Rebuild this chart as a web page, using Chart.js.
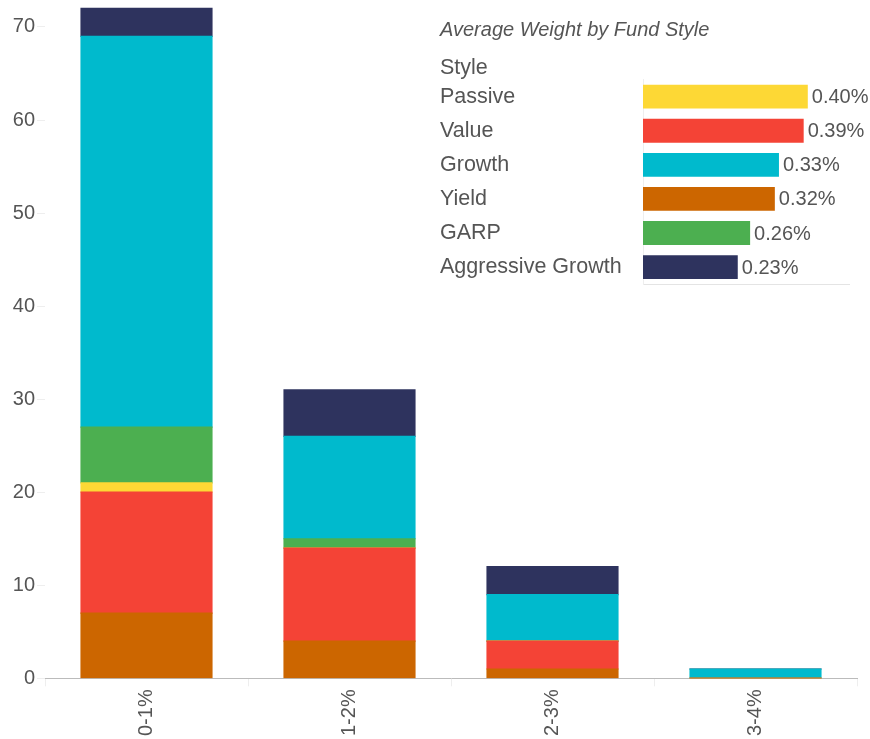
<!DOCTYPE html>
<html>
<head>
<meta charset="utf-8">
<script src="https://cdn.jsdelivr.net/npm/chart.js@4"></script>
<style>
  html, body { margin: 0; padding: 0; background: #fff; }
  #wrap { position: relative; width: 870px; height: 739px; }
  #mainChart { position: absolute; left: 0; top: 0; }
  #insetChart { position: absolute; left: 430px; top: 0; }
</style>
</head>
<body>
<div id="wrap">
  <canvas id="mainChart" width="870" height="739"></canvas>
  <canvas id="insetChart" width="440" height="300"></canvas>
</div>
<script>
const buckets = ["0-1%", "1-2%", "2-3%", "3-4%"];

// counts per bucket, stacked bottom to top
const yieldCounts = [7, 4, 1, 0];
const valueCounts = [13, 10, 3, 0];
const passiveCounts = [1, 0, 0, 0];
const garpCounts = [6, 1, 0, 0];
const growthCounts = [42, 11, 5, 1];
const aggressiveCounts = [3, 5, 3, 0];

const styles = ["Passive", "Value", "Growth", "Yield", "GARP", "Aggressive Growth"];
const avgWeights = [0.40, 0.39, 0.33, 0.32, 0.26, 0.23];

const colors = {
  Passive: "#FDD835",
  Value: "#F44336",
  Growth: "#00BACD",
  Yield: "#CC6600",
  GARP: "#4CAF50",
  "Aggressive Growth": "#2E335E",
};

Chart.defaults.font.family = "'Liberation Sans', Arial, sans-serif";
Chart.defaults.color = "#555";
Chart.defaults.animation = false;

const stacked = [
  ["Yield", yieldCounts],
  ["Value", valueCounts],
  ["Passive", passiveCounts],
  ["GARP", garpCounts],
  ["Growth", growthCounts],
  ["Aggressive Growth", aggressiveCounts],
];

new Chart(document.getElementById("mainChart"), {
  type: "bar",
  data: {
    labels: buckets,
    datasets: stacked.map(([name, vals]) => ({
      label: name,
      data: vals,
      backgroundColor: colors[name],
      borderWidth: 0,
      inflateAmount: 0.6,
      categoryPercentage: 0.645,
      barPercentage: 1,
    })),
  },
  options: {
    responsive: false,
    layout: { padding: { top: 0, right: 13, left: 0, bottom: 0 } },
    plugins: { legend: { display: false }, tooltip: { enabled: false } },
    scales: {
      x: {
        stacked: true,
        grid: { offset: true, drawOnChartArea: false, tickLength: 8, color: "#eee" },
        border: { display: true, dash: [2, 2], color: "#bbb" },
        ticks: { minRotation: 90, maxRotation: 90, padding: 3, font: { size: 20 }, color: "#555" },
      },
      y: {
        stacked: true,
        min: 0,
        max: 72.9,
        grid: { drawOnChartArea: false, tickLength: 8, color: "#eee" },
        border: { display: false },
        ticks: { stepSize: 10, includeBounds: false, font: { size: 20 }, color: "#555", padding: 2 },
        afterFit: (s) => { s.width = 45; s.paddingTop = 0; s.paddingBottom = 0; },
      },
    },
  },
});

const valueLabels = {
  id: "valueLabels",
  afterDatasetsDraw(chart) {
    const ctx = chart.ctx;
    const meta = chart.getDatasetMeta(0);
    ctx.save();
    ctx.font = "20px 'Liberation Sans', Arial, sans-serif";
    ctx.fillStyle = "#555";
    ctx.textBaseline = "middle";
    ctx.textAlign = "left";
    meta.data.forEach((bar, i) => {
      ctx.fillText(avgWeights[i].toFixed(2) + "%", bar.x + 4, bar.y + 1);
    });
    ctx.restore();
  },
};

new Chart(document.getElementById("insetChart"), {
  type: "bar",
  data: {
    labels: styles,
    datasets: [{
      data: avgWeights,
      backgroundColor: styles.map((s) => colors[s]),
      borderWidth: 0,
      categoryPercentage: 0.7,
      barPercentage: 1,
    }],
  },
  options: {
    indexAxis: "y",
    responsive: false,
    layout: { padding: { left: 10, right: 21, top: 0, bottom: 7 } },
    plugins: {
      legend: { display: false },
      tooltip: { enabled: false },
      title: {
        display: true,
        text: "Average Weight by Fund Style",
        align: "start",
        color: "#555",
        font: { size: 20, style: "italic", weight: "normal" },
        padding: { top: 18, bottom: 14 },
      },
      subtitle: {
        display: true,
        text: "Style",
        align: "start",
        color: "#555",
        font: { size: 21.5, weight: "normal", lineHeight: 1.1 },
        padding: { top: 0, bottom: 0 },
      },
    },
    scales: {
      x: {
        min: 0,
        max: 0.5,
        grid: { display: false },
        border: { display: true, dash: [2, 2], color: "#e4e4e4" },
        ticks: { display: false },
      },
      y: {
        grid: { display: false },
        border: { display: true, color: "#eee" },
        ticks: { crossAlign: "far", font: { size: 21.5 }, color: "#555" },
        afterFit: (s) => { s.width = 203; },
      },
    },
  },
  plugins: [valueLabels],
});
</script>
</body>
</html>
